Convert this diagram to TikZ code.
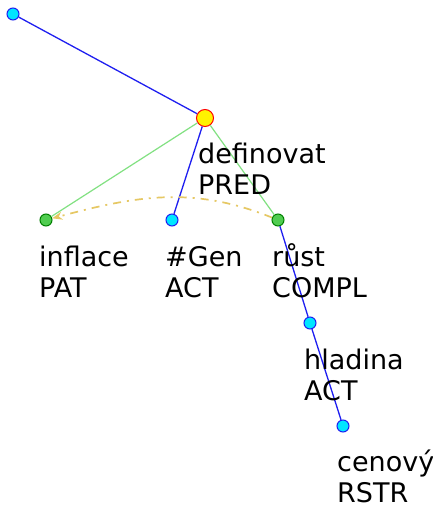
\documentclass[tikz,border=0pt]{standalone}
\usepackage{fontspec}
\setmainfont{DejaVu Sans}
\usetikzlibrary{arrows.meta}

\definecolor{edgeblue}{RGB}{30,30,240}
\definecolor{edgegreen}{RGB}{130,225,130}
\definecolor{nodecyan}{RGB}{0,230,255}
\definecolor{nodegreen}{RGB}{80,205,80}
\definecolor{coref}{RGB}{230,200,100}

\tikzset{
	tnode/.style={circle,draw=edgeblue,fill=nodecyan,line width=1pt,minimum size=12pt,inner sep=0pt},
	gnode/.style={circle,draw=green!50!black,fill=nodegreen,line width=1pt,minimum size=12pt,inner sep=0pt},
	pnode/.style={circle,draw=red,fill=yellow,line width=1pt,minimum size=17pt,inner sep=0pt},
	lbl/.style={anchor=base west,align=left,inner sep=0pt,font=\fontsize{27}{31}\selectfont},
	bedge/.style={draw=edgeblue,line width=1.3pt},
	gedge/.style={draw=edgegreen,line width=1.2pt},
}

\begin{document}
\begin{tikzpicture}[x=1pt,y=-1pt]
		\useasboundingbox[fill=white] (0,0) rectangle (433,506);

		% nodes
		\node[tnode] (root) at (13,14) {};
		\node[pnode] (definovat) at (205,118) {};
		\node[gnode] (inflace) at (46,220) {};
		\node[tnode] (gen) at (172,220) {};
		\node[gnode] (rust) at (278,220) {};
		\node[tnode] (hladina) at (310,323) {};
		\node[tnode] (cenovy) at (343,426) {};

		% edges
		\draw[bedge] (root) -- (definovat);
		\draw[gedge] (definovat) -- (inflace);
		\draw[bedge] (definovat) -- (gen);
		\draw[gedge] (definovat) -- (rust);
		\draw[bedge] (rust) -- (hladina);
		\draw[bedge] (hladina) -- (cenovy);

		% coreference arrow
		\draw[coref,line width=1.7pt,dash pattern=on 8pt off 6pt on 2pt off 6pt,-{Stealth[length=10pt,width=8pt]}]
			(rust) to[out=158,in=15] (inflace);

		% labels (base = last line)
		\node[lbl] (l-definovat) at (198,194) {definovat\\PRED};
		\node[lbl] (l-inflace) at (39,297) {inflace\\PAT};
		\node[lbl] (l-gen) at (165,297) {\#Gen\\ACT};
		\node[lbl] (l-rust) at (272,297) {růst\\COMPL};
		\node[lbl] (l-hladina) at (304,400) {hladina\\ACT};
		\node[lbl] (l-cenovy) at (337,502) {cenový\\RSTR};
	\end{tikzpicture}
\end{document}
